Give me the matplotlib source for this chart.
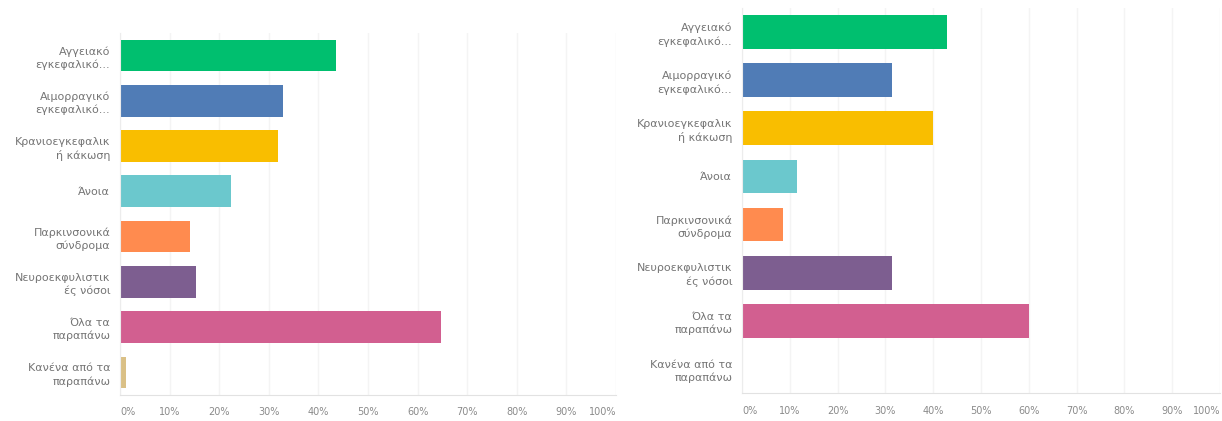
import matplotlib
matplotlib.use("Agg")
import matplotlib.pyplot as plt

# answer options (same for both panels), top to bottom
labels = [
    "Αγγειακό\nεγκεφαλικό...",
    "Αιμορραγικό\nεγκεφαλικό...",
    "Κρανιοεγκεφαλικ\nή κάκωση",
    "Άνοια",
    "Παρκινσονικά\nσύνδρομα",
    "Νευροεκφυλιστικ\nές νόσοι",
    "Όλα τα\nπαραπάνω",
    "Κανένα από τα\nπαραπάνω",
]

# percent of respondents choosing each option
left_pct = [43.53, 32.94, 31.76, 22.35, 14.12, 15.29, 64.71, 1.18]
right_pct = [42.86, 31.43, 40.00, 11.43, 8.57, 31.43, 60.00, 0.00]

colors = ["#00BF6F", "#507CB6", "#F9BE00", "#6BC8CD",
          "#FF8B4F", "#7D5E90", "#D25F90", "#DAC086"]

ticks = list(range(0, 101, 10))
tick_labels = [f"{t}%" for t in ticks]

TEXT = "#757575"


def draw_panel(ax, values):
    y = range(len(labels))
    ax.barh(y, values, height=0.7, color=colors, zorder=2)
    ax.set_ylim(len(labels) - 0.5, -0.5)
    ax.set_xlim(0, 100)

    ax.set_xticks(ticks)
    ax.set_xticklabels(tick_labels, fontsize=7, color="#8a8a8a")
    for i, lab in enumerate(ax.get_xticklabels()):
        if i == 0:
            lab.set_horizontalalignment("left")
        elif i == len(ticks) - 1:
            lab.set_horizontalalignment("right")
    ax.tick_params(axis="x", length=0, pad=9)

    ax.set_yticks(list(y))
    ax.set_yticklabels(labels, fontsize=8, color=TEXT, linespacing=1.35)
    ax.tick_params(axis="y", length=0, pad=7)

    ax.grid(axis="x", color="#f4f4f4", linewidth=1, zorder=0)
    for side in ("top", "right"):
        ax.spines[side].set_visible(False)
    ax.spines["bottom"].set_color("#e2e2e2")
    ax.spines["left"].set_color("#ececec")


fig = plt.figure(figsize=(12.22, 4.21), dpi=100)
ax_left = fig.add_axes([0.0982, 0.0618, 0.4059, 0.860])
ax_right = fig.add_axes([0.6072, 0.0665, 0.3912, 0.9145])

draw_panel(ax_left, left_pct)
draw_panel(ax_right, right_pct)

fig.savefig("out.png", dpi=100, facecolor="white")
plt.close(fig)
